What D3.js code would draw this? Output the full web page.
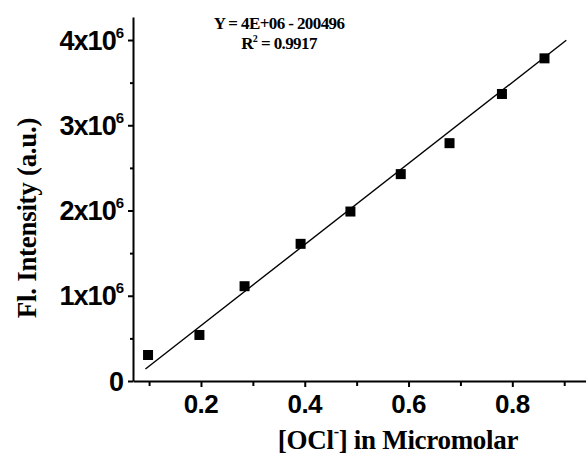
<!DOCTYPE html>
<html>
<head>
<meta charset="utf-8">
<script src="https://cdn.jsdelivr.net/npm/d3@7"></script>
<style>
  body { margin: 0; background: #fff; }
  svg { display: block; }
</style>
</head>
<body>
<svg width="586" height="454"></svg>
<script>
// data
const concX = [0.098, 0.197, 0.284, 0.392, 0.488, 0.585, 0.679, 0.780, 0.862]
const intensity = [0.305e6, 0.54e6, 1.112e6, 1.609e6, 1.988e6, 2.427e6, 2.79e6, 3.367e6, 3.785e6]
// end points of the fitted line
const fitX = [0.093, 0.904]
const fitY = [0.141e6, 3.997e6]

const xTicks = [0.2, 0.4, 0.6, 0.8]
const xMinor = [0.1, 0.3, 0.5, 0.7, 0.9]
const yTicks = [0, 1e6, 2e6, 3e6, 4e6]
const yTickMant = ["0", "1", "2", "3", "4"]
const yMinor = [0.5e6, 1.5e6, 2.5e6, 3.5e6]

const svg = d3.select("svg")

const x = d3.scaleLinear().domain([0.069, 0.942]).range([133, 586])
const y = d3.scaleLinear().domain([0, 4.27e6]).range([381, 17])

const sans = "'Liberation Sans', Arial, sans-serif"
const serif = "'Liberation Serif', 'Times New Roman', serif"

// x axis
const xAxisMajor = d3.axisBottom(x).tickValues(xTicks).tickSize(6).tickFormat("").tickSizeOuter(0)
const xAxisMinor = d3.axisBottom(x).tickValues(xMinor).tickSize(5).tickFormat("").tickSizeOuter(0)

const gx = svg.append("g").attr("transform", "translate(0," + y(0) + ")")
gx.call(xAxisMajor)
gx.append("g").call(xAxisMinor).select(".domain").remove()
gx.selectAll("path.domain").attr("stroke-width", 2).attr("stroke", "#000")
gx.selectAll("line").attr("stroke-width", 2).attr("stroke", "#000")

svg.append("g").selectAll("text")
  .data(xTicks)
  .enter()
  .append("text")
  .attr("x", d => x(d))
  .attr("y", 413)
  .attr("text-anchor", "middle")
  .style("font-family", sans)
  .style("font-weight", "bold")
  .style("font-size", "26px")
  .style("letter-spacing", "-0.5px")
  .text(d => d3.format(".1f")(d))

// y axis
const yAxisMajor = d3.axisLeft(y).tickValues(yTicks).tickSize(5).tickFormat("").tickSizeOuter(0)
const yAxisMinor = d3.axisLeft(y).tickValues(yMinor).tickSize(3).tickFormat("").tickSizeOuter(0)

const gy = svg.append("g").attr("transform", "translate(" + x(0.069) + ",0)")
gy.call(yAxisMajor)
gy.append("g").call(yAxisMinor).select(".domain").remove()
gy.selectAll("path.domain").attr("stroke-width", 2).attr("stroke", "#000")
gy.selectAll("line").attr("stroke-width", 2).attr("stroke", "#000")

const yLab = svg.append("g").selectAll("text")
  .data(yTicks)
  .enter()
  .append("text")
  .attr("x", 123)
  .attr("y", d => y(d) + 9.5)
  .attr("text-anchor", "end")
  .style("font-family", sans)
  .style("font-weight", "bold")
  .style("font-size", "27px")
  .style("letter-spacing", "-1px")

yLab.each(function(d, i) {
  const t = d3.select(this)
  if (d === 0) {
    t.text("0")
    return
  }
  t.append("tspan").text(yTickMant[i] + "x10")
  t.append("tspan").attr("dy", -12).style("font-size", "15px").text("6")
})

// fitted line
svg.append("line")
  .attr("x1", x(fitX[0]))
  .attr("y1", y(fitY[0]))
  .attr("x2", x(fitX[1]))
  .attr("y2", y(fitY[1]))
  .attr("stroke", "#000")
  .attr("stroke-width", 1.4)

// points
const pts = concX.map((c, i) => ({c: c, v: intensity[i]}))
svg.append("g").selectAll("rect")
  .data(pts)
  .enter()
  .append("rect")
  .attr("x", d => x(d.c) - 5)
  .attr("y", d => y(d.v) - 5)
  .attr("width", 10)
  .attr("height", 10)
  .attr("fill", "#000")

// equation
svg.append("text")
  .attr("x", 279)
  .attr("y", 29)
  .attr("text-anchor", "middle")
  .style("font-family", serif)
  .style("font-weight", "bold")
  .style("font-size", "17px")
  .style("letter-spacing", "-0.6px")
  .text("Y = 4E+06 - 200496")

const r2 = svg.append("text")
  .attr("x", 279)
  .attr("y", 49)
  .attr("text-anchor", "middle")
  .style("font-family", serif)
  .style("font-weight", "bold")
  .style("font-size", "17px")
  .style("letter-spacing", "-0.6px")
r2.append("tspan").text("R")
r2.append("tspan").attr("dy", -7).style("font-size", "10px").text("2")
r2.append("tspan").attr("dy", 7).text(" = 0.9917")

// axis titles
const xt = svg.append("text")
  .attr("x", 398)
  .attr("y", 449)
  .attr("text-anchor", "middle")
  .style("font-family", serif)
  .style("font-weight", "bold")
  .style("font-size", "27px")
  .style("letter-spacing", "-0.3px")
xt.append("tspan").text("[OCl")
xt.append("tspan").attr("dy", -12).style("font-size", "16px").text("-")
xt.append("tspan").attr("dy", 12).text("] in Micromolar")

svg.append("text")
  .attr("transform", "translate(36,218) rotate(-90)")
  .attr("text-anchor", "middle")
  .style("font-family", serif)
  .style("font-weight", "bold")
  .style("font-size", "27px")
  .style("letter-spacing", "-0.3px")
  .text("Fl. Intensity (a.u.)")
</script>
</body>
</html>
